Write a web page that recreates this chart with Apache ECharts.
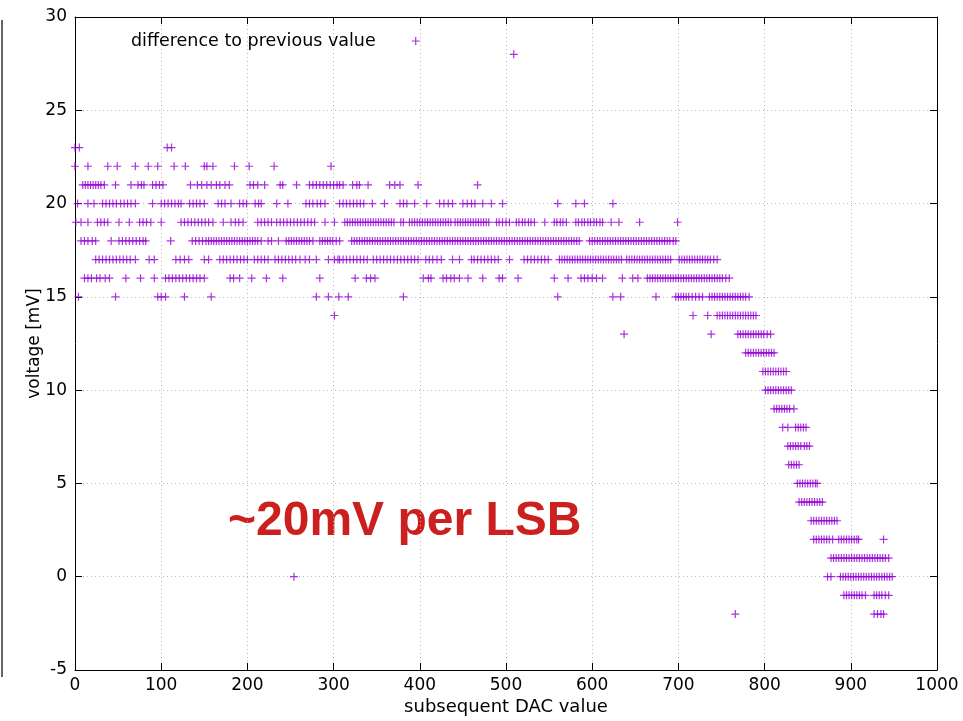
<!DOCTYPE html>
<html>
<head>
<meta charset="utf-8">
<script src="https://cdn.jsdelivr.net/npm/echarts@6/dist/echarts.min.js"></script>
<style>
html,body{margin:0;padding:0;background:#fff}
#main{width:963px;height:721px}
</style>
</head>
<body>
<div id="main"></div>
<script>
// DAC values (x) of the points found in each voltage row [mV]
var row28 = [509];
var row23 = [0, 5, 107, 112];
var row22 = [0, 15, 38, 49, 70, 85, 96, 115, 128, 150, 153, 160, 185, 202, 231, 297];
var row21 = [9, 12, 15, 18, 21, 24, 27, 30, 34, 47, 65, 73, 77, 80, 90, 94, 98, 102, 134, 142, 147, 153, 158, 164, 168, 174, 179, 203, 207, 212, 220, 238, 241, 257, 272, 276, 280, 284, 288, 292, 296, 300, 304, 307, 311, 322, 327, 330, 340, 365, 371, 377, 398, 467];
var row20 = [3, 15, 22, 32, 36, 40, 44, 48, 53, 57, 61, 65, 70, 90, 100, 104, 108, 112, 116, 120, 123, 133, 137, 141, 145, 150, 166, 170, 174, 181, 191, 195, 199, 209, 213, 216, 234, 247, 268, 272, 276, 281, 285, 290, 307, 311, 315, 319, 323, 327, 331, 335, 345, 359, 377, 381, 385, 394, 408, 423, 428, 433, 438, 450, 455, 460, 464, 473, 483, 496, 560, 581, 591, 624];
var row19 = [1, 7, 15, 26, 30, 34, 38, 51, 63, 75, 79, 83, 88, 100, 123, 127, 131, 135, 139, 143, 147, 151, 155, 160, 172, 181, 186, 190, 195, 212, 216, 220, 224, 228, 234, 238, 242, 246, 250, 254, 258, 262, 266, 270, 274, 278, 290, 301,
  313, 316, 319, 322, 325, 328, 331, 334, 337, 340, 343, 346, 349, 352, 355, 358, 361, 364, 367, 370, 378, 381, 388, 391, 394, 397, 400, 403, 406, 409, 412, 415, 418, 421, 424, 427, 430, 433, 436, 441, 444, 447, 450, 453, 456, 459, 462,
  465, 468, 471, 474, 477, 480, 489, 492, 496, 500, 504, 512, 515, 519, 522, 526, 529, 533, 545, 556, 559, 563, 566, 570, 581, 584, 588, 591, 595, 598, 602, 605, 609, 612, 622, 631, 655, 699];
var row18 = [7, 11, 15, 20, 24, 42, 51, 55, 59, 63, 67, 71, 75, 79, 82, 111, 136, 140, 144, 148, 152,
  155, 158, 161, 164, 167, 170, 173, 176, 179, 182, 185, 188, 191, 194, 197, 200, 203, 206, 209, 212, 216, 224, 228, 236, 245, 248, 251, 254, 257, 260, 263, 266, 269, 272, 276, 284, 287, 290, 293, 296, 299, 303, 307,
  321, 324, 327, 330, 333, 336, 339, 342, 345, 348, 351, 354, 357, 360, 363, 366, 369, 372, 375, 378, 381, 384, 387, 390, 393, 396, 399, 402, 405, 408, 411, 414, 417, 420, 423, 426, 429, 432, 435, 438, 441, 444, 447, 450, 453, 456, 459, 462,
  465, 468, 471, 474, 477, 480, 483, 486, 489, 492, 495, 498, 501, 504, 507, 510, 513, 516, 519, 522, 525, 528, 531, 534, 537, 540, 543, 546, 549, 552, 555, 558, 561, 564, 567, 570, 573, 576, 579, 582, 585, 597, 600, 603, 606, 609, 612, 615, 618,
  621, 624, 627, 630, 633, 636, 639, 642, 645, 648, 651, 654, 657, 660, 663, 666, 669, 672, 675, 678, 681, 684, 687, 690, 694, 697];
var row17 = [24, 28, 32, 36, 40, 44, 48, 52, 56, 60, 64, 70, 86, 92, 117, 122, 127, 132, 150, 155,
  168, 172, 176, 180, 184, 188, 192, 196, 200, 208, 212, 216, 220, 224, 232, 236, 240, 244, 248, 252, 256, 261, 267, 272, 280, 294, 301, 305,
  307, 311, 315, 319, 323, 327, 331, 335, 339, 346, 350, 354, 358, 362, 366, 370, 374, 378, 382, 386, 390, 394, 398, 407, 411, 415, 420, 425, 438, 446, 460,
  463, 467, 471, 475, 479, 483, 487, 491, 504, 521, 525, 529, 533, 537, 541, 545, 549, 562, 565, 568, 571, 574, 577, 580, 583, 586, 589, 592, 595, 598, 601, 604, 607, 610, 613, 616, 619,
  622, 625, 628, 631, 634, 640, 643, 646, 649, 652, 655, 658, 661, 664, 667, 670, 673, 676, 679, 682, 685, 688, 691, 701, 704, 707, 710, 713, 716, 719, 722, 725, 728, 731, 734, 737, 741, 745];
var row16 = [11, 15, 19, 25, 29, 35, 40, 59, 76, 92, 105, 109, 113, 117, 121, 125, 129, 133, 137, 141, 145, 150, 180, 184, 191, 205, 222, 241, 284,
  325, 338, 343, 348, 404, 410, 413, 427, 431, 436, 440, 446, 456, 473, 492, 496, 514, 556, 572, 587, 591, 595, 600, 605, 612, 635, 647, 653,
  664, 667, 670, 673, 676, 679, 682, 685, 688, 691, 694, 697, 700, 703, 706, 709, 712, 715, 718, 721, 724, 727, 730, 733, 736, 739, 742, 745, 748, 751, 755, 759];
var row15 = [4, 47, 96, 100, 105, 127, 158, 280, 294, 306, 317, 381, 560, 624, 633, 674, 697, 700, 703, 706, 709, 712, 716, 720, 724, 728, 736, 739, 742, 745, 748, 751, 754, 757, 760, 763, 766, 769, 772, 775, 778, 782];
var row14 = [301, 717, 734, 745, 748, 751, 754, 757, 760, 763, 766, 769, 772, 775, 778, 781, 784, 787, 790];
var row13 = [637, 738, 769, 772, 775, 778, 781, 784, 787, 790, 793, 796, 799, 803, 807];
var row12 = [778, 781, 784, 787, 790, 793, 796, 799, 802, 805, 808, 811];
var row11 = [798, 801, 804, 807, 810, 813, 816, 819, 822, 825];
var row10 = [801, 804, 807, 810, 813, 816, 819, 822, 825, 828, 831];
var row9 = [811, 814, 817, 820, 823, 826, 829, 834];
var row8 = [821, 827, 836, 839, 842, 845, 848];
var row7 = [827, 830, 833, 836, 839, 842, 846, 849, 852];
var row6 = [828, 831, 834, 837, 840];
var row5 = [838, 841, 844, 847, 850, 853, 856, 859, 861];
var row4 = [840, 843, 846, 849, 852, 855, 858, 861, 864, 867];
var row3 = [854, 857, 860, 863, 866, 869, 872, 875, 878, 881, 884];
var row2 = [857, 860, 863, 866, 869, 872, 875, 879, 886, 889, 892, 895, 898, 901, 904, 907, 909, 938];
var row1 = [877, 880, 883, 886, 889, 892, 895, 898, 901, 904, 907, 910, 913, 916, 919, 922, 925, 928, 931, 934, 937, 940, 944];
var row0 = [254, 873, 877, 888, 891, 894, 897, 900, 903, 906, 909, 912, 915, 918, 921, 924, 927, 930, 933, 936, 939, 942, 945, 948];
var rowM1 = [892, 895, 898, 901, 904, 907, 910, 913, 917, 927, 930, 933, 936, 940, 944];
var rowM2 = [766, 927, 931, 935, 938];

var rowLevels = [28, 23, 22, 21, 20, 19, 18, 17, 16, 15, 14, 13, 12, 11, 10, 9, 8, 7, 6, 5, 4, 3, 2, 1, 0, -1, -2];
var rowLists = [row28, row23, row22, row21, row20, row19, row18, row17, row16, row15, row14, row13, row12, row11, row10, row9, row8, row7, row6, row5, row4, row3, row2, row1, row0, rowM1, rowM2];

var points = [];
rowLevels.forEach(function (v, i) {
    rowLists[i].forEach(function (x) { points.push([x, v]); });
});

var FONT = 'DejaVu Sans, sans-serif';
var PLUS = 'path://M0,3.4h8v1.2h-8z M3.4,0h1.2v8h-1.2z';

var myChart = echarts.init(document.getElementById('main'));
myChart.setOption({
    animation: false,
    grid: { left: 75, right: 26, top: 17, bottom: 51, show: false },
    legend: {
        left: 126, top: 27, align: 'right',
        itemWidth: 8, itemHeight: 8,
        textStyle: { fontFamily: FONT, fontSize: 17.5, color: '#000', padding: [0, 31, 0, 0] },
        data: ['difference to previous value']
    },
    xAxis: [{
        type: 'value', min: 0, max: 1000, interval: 100,
        name: 'subsequent DAC value', nameLocation: 'middle', nameGap: 28, nameMoveOverlap: false,
        nameTextStyle: { fontFamily: FONT, fontSize: 18, color: '#000' },
        axisLine: { show: true, onZero: false, lineStyle: { color: '#000', width: 1 } },
        axisTick: { show: true, inside: true, length: 7, lineStyle: { color: '#000' } },
        axisLabel: { fontFamily: FONT, fontSize: 17, color: '#000', margin: 7,
            formatter: function (v) { return String(v); } },
        splitLine: { show: true, lineStyle: { type: [1, 3], color: '#bbb' } }
    }, {
        type: 'value', min: 0, max: 1000, interval: 100, position: 'top',
        axisLine: { show: true, onZero: false, lineStyle: { color: '#000', width: 1 } },
        axisTick: { show: true, inside: true, length: 7, lineStyle: { color: '#000' } },
        axisLabel: { show: false }, splitLine: { show: false }
    }],
    yAxis: [{
        type: 'value', min: -5, max: 30, interval: 5,
        name: 'voltage [mV]', nameLocation: 'middle', nameGap: 32, nameMoveOverlap: false,
        nameTextStyle: { fontFamily: FONT, fontSize: 17, color: '#000' },
        axisLine: { show: true, onZero: false, lineStyle: { color: '#000', width: 1 } },
        axisTick: { show: true, inside: true, length: 7, lineStyle: { color: '#000' } },
        axisLabel: { fontFamily: FONT, fontSize: 17, color: '#000', margin: 8 },
        splitLine: { show: true, lineStyle: { type: [1, 3], color: '#bbb' } }
    }, {
        type: 'value', min: -5, max: 30, interval: 5, position: 'right',
        axisLine: { show: true, onZero: false, lineStyle: { color: '#000', width: 1 } },
        axisTick: { show: true, inside: true, length: 7, lineStyle: { color: '#000' } },
        axisLabel: { show: false }, splitLine: { show: false }
    }],
    series: [{
        name: 'difference to previous value',
        type: 'scatter',
        symbol: PLUS,
        symbolSize: 8,
        itemStyle: { color: '#9400d3', opacity: 0.8 },
        data: points
    }],
    graphic: [{
        type: 'text', left: 228, top: 498,
        style: { text: '~20mV per LSB', fill: '#cc2020', font: 'bold 48px Liberation Sans, Arial, sans-serif' }
    }, {
        type: 'line', shape: { x1: 2, y1: 20, x2: 2, y2: 677 },
        style: { stroke: '#333', lineWidth: 1.5 }
    }]
});
</script>
</body>
</html>
